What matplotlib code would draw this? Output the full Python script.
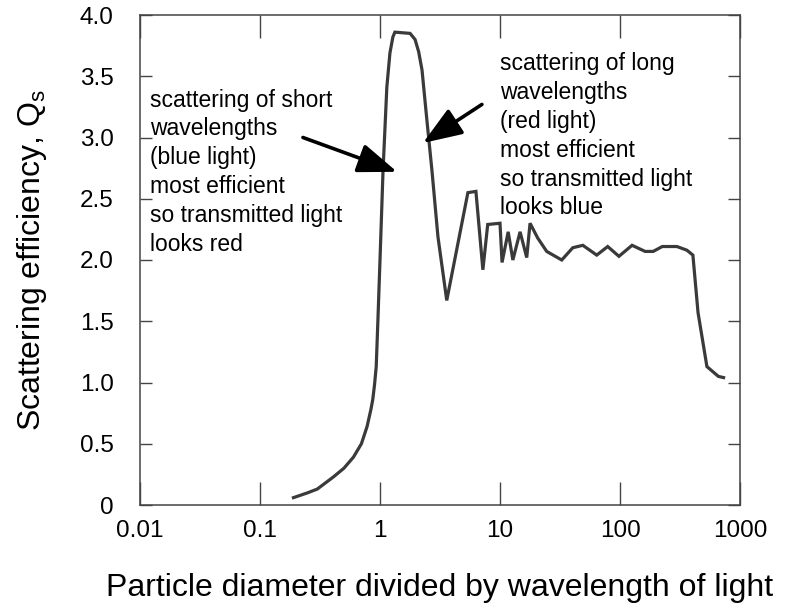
import matplotlib
matplotlib.use("Agg")
import matplotlib.pyplot as plt
from matplotlib.ticker import FixedLocator, FixedFormatter, NullLocator

plt.rcParams['font.family'] = ['Liberation Sans', 'DejaVu Sans']
plt.rcParams['mathtext.default'] = 'regular'

# particle diameter / wavelength  vs  scattering efficiency Qs
size_ratio = [0.19, 0.25, 0.3, 0.41, 0.5, 0.6, 0.7, 0.78, 0.84, 0.87, 0.9, 0.93,
              0.96, 1.0, 1.06, 1.14, 1.21, 1.28, 1.33, 1.78, 1.96, 2.1, 2.24,
              2.46, 2.71, 3.04, 3.6, 5.4, 6.3, 7.2, 7.9, 10.0, 10.4, 11.7, 12.8,
              14.7, 16.7, 17.8, 20.6, 24.5, 32.7, 40.4, 49, 64, 79, 98, 126,
              162, 189, 225, 298, 361, 405, 447, 530, 660, 730]
q_scat = [0.06, 0.10, 0.13, 0.23, 0.30, 0.39, 0.50, 0.64, 0.78, 0.86, 0.98, 1.13,
          1.50, 2.00, 2.73, 3.41, 3.69, 3.82, 3.86, 3.85, 3.80, 3.70, 3.55,
          3.14, 2.73, 2.19, 1.67, 2.55, 2.56, 1.92, 2.29, 2.30, 1.98, 2.23, 2.00,
          2.23, 2.02, 2.30, 2.18, 2.07, 2.00, 2.10, 2.12, 2.04, 2.11, 2.03, 2.12,
          2.07, 2.07, 2.11, 2.11, 2.08, 2.04, 1.57, 1.13, 1.05, 1.04]

x_ticks = [0.01, 0.1, 1, 10, 100, 1000]
x_labels = ['0.01', '0.1', '1', '10', '100', '1000']
y_ticks = [0, 0.5, 1.0, 1.5, 2.0, 2.5, 3.0, 3.5, 4.0]
y_labels = ['0', '0.5', '1.0', '1.5', '2.0', '2.5', '3.0', '3.5', '4.0']

short_note = "scattering of short\nwavelengths\n(blue light)\nmost efficient\nso transmitted light\nlooks red"
long_note = "scattering of long\nwavelengths\n(red light)\nmost efficient\nso transmitted light\nlooks blue"

fig = plt.figure(figsize=(7.96, 6.05), dpi=100)
ax = fig.add_axes([140/796, 1 - 505/605, 600/796, 490/605])

ax.plot(size_ratio, q_scat, color='#3a3a3a', lw=2.3, solid_joinstyle='miter')

ax.set_xscale('log')
ax.set_xlim(0.01, 1000)
ax.set_ylim(0, 4.0)

ax.xaxis.set_major_locator(FixedLocator(x_ticks))
ax.xaxis.set_major_formatter(FixedFormatter(x_labels))
ax.xaxis.set_minor_locator(NullLocator())
ax.yaxis.set_major_locator(FixedLocator(y_ticks))
ax.yaxis.set_major_formatter(FixedFormatter(y_labels))

ax.tick_params(axis='x', direction='in', length=16.5, width=1, color='#444444',
               top=True, labelsize=17.5, pad=11)
ax.tick_params(axis='y', direction='in', length=8.6, width=1, color='#444444',
               right=True, labelsize=17.5, pad=19)
for sp in ax.spines.values():
    sp.set_color('#444444')
    sp.set_linewidth(1.1)

ax.set_xlabel('Particle diameter divided by wavelength of light', fontsize=23, labelpad=22)
ax.set_ylabel(r'Scattering efficiency, Q$_{s}$', fontsize=23, labelpad=22)

ax.text(0.017, 0.85, short_note, transform=ax.transAxes, fontsize=16.5,
        va='top', ha='left', linespacing=1.33)
ax.text(0.6, 0.925, long_note, transform=ax.transAxes, fontsize=16.5,
        va='top', ha='left', linespacing=1.33)

arrow = dict(arrowstyle='-|>,head_length=1.2,head_width=0.45', lw=2.6, color='black',
             shrinkA=0, shrinkB=0, mutation_scale=20)
ax.annotate('', xy=(1.386, 2.72), xytext=(0.228, 3.0), arrowprops=arrow)
ax.annotate('', xy=(2.28, 2.955), xytext=(7.07, 3.27), arrowprops=arrow)

fig.savefig('out.png', dpi=100)
